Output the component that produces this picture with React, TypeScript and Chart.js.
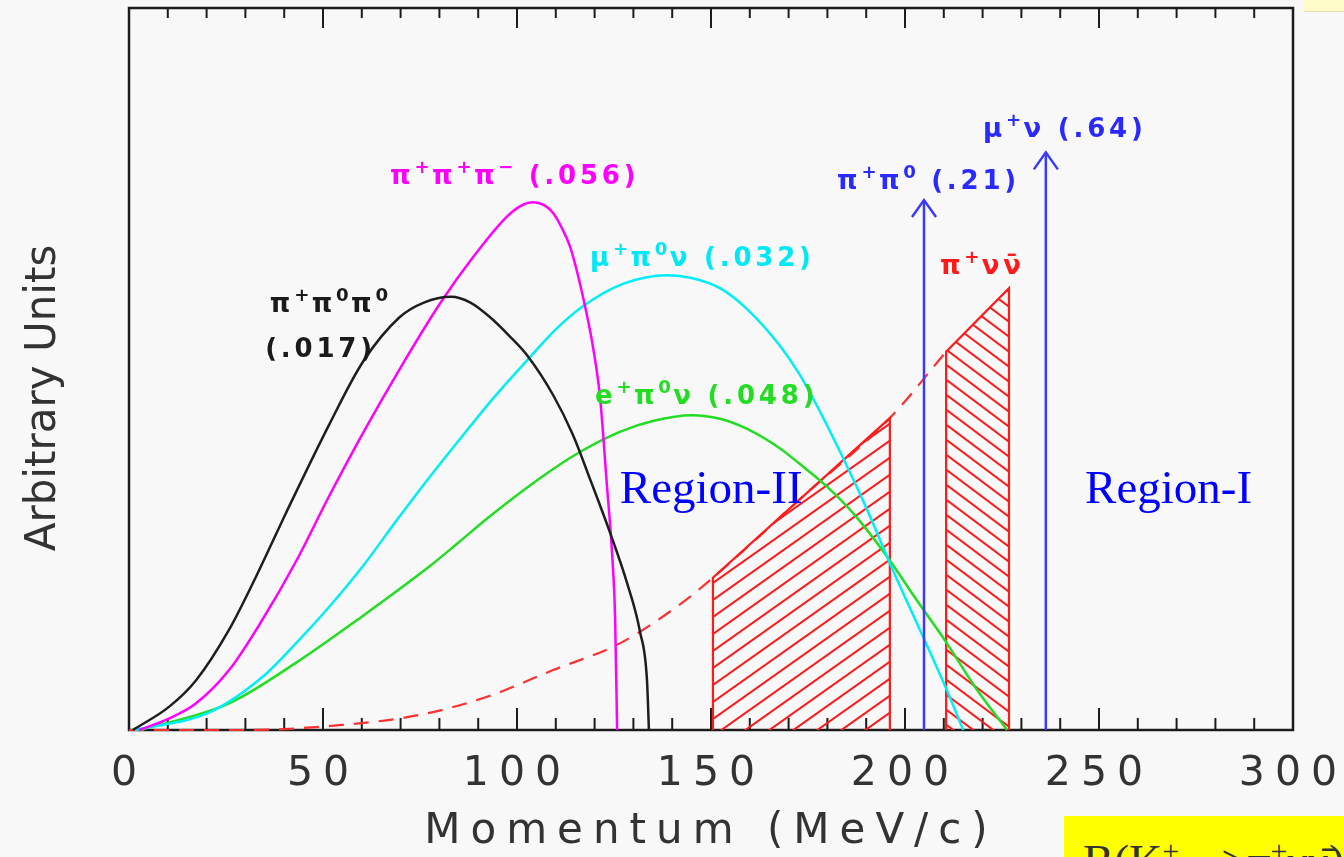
import React, { useEffect, useRef } from "react";
import { Chart, registerables } from "chart.js";

Chart.register(...registerables);

// ---------------- data (momentum in MeV/c, arbitrary units) ----------------
const xMin = 0;
const xMax = 300;
const xTickStep = 10;
const xMajorStep = 50;
const yMin = 0;
const yMax = 100;

// K+ -> pi+ pi0 pi0  (.017)
const pi3neutP = [1, 10.3, 17.3, 25.8, 32.7, 40.5, 51.5, 60.3, 69.8, 76, 83, 88, 93, 98, 102.6, 109.3, 114.4, 119, 124, 128.4, 131.7, 133.5, 134];
const pi3neutV = [0, 3.2, 6.9, 13.9, 21.2, 30.1, 42.2, 51, 57.2, 59.2, 60, 59.2, 57.2, 54.6, 51.9, 46.4, 40.9, 34.5, 27.3, 20.3, 13.6, 6.9, 0];

// K+ -> pi+ pi+ pi-  (.056)
const pi3chP = [2.6, 10, 17.3, 25.8, 34.3, 43, 51.5, 60.8, 70, 80.2, 88.7, 97.4, 101, 104.1, 107, 109.3, 111.5, 113.7, 117, 119.6, 121.4, 123.2, 124.5, 125.3, 125.8];
const pi3chV = [0, 1.5, 3.7, 8.3, 15.2, 23.3, 32.3, 41.6, 50.2, 59.1, 65.5, 71.1, 72.6, 73.1, 72.7, 71.6, 69.6, 66.9, 60, 53, 46.1, 33.7, 24.5, 15.2, 0];

// K+ -> mu+ pi0 nu  (.032)
const kmu3P = [1.5, 20.6, 34.3, 43, 51.5, 60, 68.8, 77.3, 85.3, 93.8, 102.6, 110, 117, 127.3, 138.7, 145, 152.3, 159.3, 167.8, 172.9, 178, 183.2, 190, 197, 205, 210.8, 215];
const kmu3V = [0, 2.4, 7.3, 12, 17, 22.5, 28.9, 34.9, 40.3, 45.9, 51.2, 55.5, 58.7, 61.8, 63, 62.6, 61.2, 58.3, 53.2, 49.2, 44.2, 38.6, 30.8, 22, 12.5, 5.5, 0];

// K+ -> e+ pi0 nu  (.048)
const ke3P = [3, 25.8, 43, 60, 77.3, 85, 92.3, 105.2, 116.2, 126.5, 135, 145, 152.3, 159.3, 167.8, 173, 179.9, 187, 195.4, 203, 210.8, 218, 226.3];
const ke3V = [0, 3.7, 9.3, 15.7, 22.6, 26, 29.3, 34.6, 38.5, 41.3, 42.8, 43.6, 43.1, 41.7, 39, 36.8, 33.7, 29.8, 24, 18, 12, 6, 0];

// K+ -> pi+ nu nubar (dashed spectrum)
const pnnP = [0, 30, 54.9, 75, 92.3, 109.3, 126.5, 142, 150.5, 173.3, 196.1, 210.6];
const pnnV = [0, 0, 0.7, 2.1, 4.6, 8.3, 12, 17.4, 21.1, 32.15, 43.2, 52.4];

// signal regions (hatched)
const region2P = [150.5, 150.5, 196.1, 196.1];
const region2V = [0, 21.1, 43.2, 0];
const region1P = [210.6, 210.6, 226.8, 226.8];
const region1V = [0, 52.4, 61.2, 0];

// two-body peaks (arrows): pi+ pi0 (.21), mu+ nu (.64)
const arrowP = [204.9, 236.3];
const arrowV = [73.4, 80];

// annotation texts ('^' marks a superscript character)
const labelTexts = ["π^+π^+π^− (.056)", "μ^+π^0ν (.032)", "π^+π^0π^0", "(.017)", "e^+π^0ν (.048)", "π^+π^0 (.21)", "μ^+ν (.64)", "π^+νν̄"];
const regionTexts = ["Region-II", "Region-I"];

// ---------------- styling / placement (not data) ----------------
const labelAnchors = [
  { x: 67.3, y: 76.9, color: "#ff00ff" },
  { x: 118.8, y: 65.5, color: "#00e8f4" },
  { x: 36.3, y: 59.1, color: "#1a1a1a" },
  { x: 35.1, y: 52.9, color: "#1a1a1a" },
  { x: 120.1, y: 46.4, color: "#22dd22" },
  { x: 182.5, y: 76.2, color: "#2a2aff" },
  { x: 220.1, y: 83.4, color: "#2a2aff" },
  { x: 209, y: 64.4, color: "#ff1a1a" },
];
const regionAnchors = [
  { x: 126.5, y: 33.2 },
  { x: 246.4, y: 33.2 },
];

const AXIS_FONT = '"DejaVu Sans"';
const AXIS_COLOR = "#333333";

const pts = (xs: number[], ys: number[]) => xs.map((x, i) => ({ x, y: ys[i] }));

function makeHatch(w: number, h: number, dir: number): CanvasPattern | string {
  const c = document.createElement("canvas");
  c.width = w;
  c.height = h;
  const g = c.getContext("2d");
  if (!g) return "rgba(255,0,0,0.3)";
  g.strokeStyle = "#ff1a1a";
  g.lineWidth = 2;
  g.beginPath();
  for (let k = -1; k <= 1; k++) {
    if (dir > 0) {
      g.moveTo(-w, 2 * h + k * h);
      g.lineTo(2 * w, -h + k * h);
    } else {
      g.moveTo(-w, -h + k * h);
      g.lineTo(2 * w, 2 * h + k * h);
    }
  }
  g.stroke();
  const p = g.createPattern(c, "repeat");
  return p || "rgba(255,0,0,0.3)";
}

function drawRich(ctx: any, text: string, x: number, yCenter: number, size: number, color: string, ls: number) {
  const segs: { t: string; sup: boolean }[] = [];
  let buf = "";
  for (let i = 0; i < text.length; i++) {
    const ch = text[i];
    if (ch === "^") {
      if (buf) segs.push({ t: buf, sup: false });
      buf = "";
      segs.push({ t: text[i + 1], sup: true });
      i++;
    } else buf += ch;
  }
  if (buf) segs.push({ t: buf, sup: false });
  const base = yCenter + size * 0.35;
  ctx.save();
  ctx.fillStyle = color;
  ctx.textAlign = "left";
  ctx.textBaseline = "alphabetic";
  let cx = x;
  for (const s of segs) {
    const fs = s.sup ? size * 0.7 : size;
    ctx.font = `bold ${fs}px "DejaVu Sans"`;
    ctx.letterSpacing = `${s.sup ? ls * 0.6 : ls}px`;
    ctx.fillText(s.t, cx, s.sup ? base - size * 0.42 : base);
    cx += ctx.measureText(s.t).width;
  }
  ctx.restore();
}

const overlayPlugin = {
  id: "kaonOverlay",
  beforeDraw(chart: any) {
    chart.ctx.letterSpacing = "10px";
  },
  beforeDatasetsDraw(chart: any) {
    const ctx = chart.ctx;
    ctx.letterSpacing = "0px";
    const { left, right, top, bottom } = chart.chartArea;
    ctx.save();
    ctx.strokeStyle = "#1c1c1c";
    ctx.lineWidth = 2.5;
    ctx.strokeRect(left, top, right - left, bottom - top);
    const xs = chart.scales.x;
    ctx.lineWidth = 2;
    ctx.beginPath();
    xs.ticks.forEach((t: any) => {
      const px = xs.getPixelForValue(t.value);
      const major = Math.abs(t.value % xMajorStep) < 1e-6;
      ctx.moveTo(px, bottom);
      ctx.lineTo(px, bottom - (major ? 22 : 12));
      ctx.moveTo(px, top);
      ctx.lineTo(px, top + (major ? 20 : 10));
    });
    ctx.stroke();
    ctx.restore();
  },
  afterDatasetsDraw(chart: any) {
    const ctx = chart.ctx;
    ctx.save();
    ctx.strokeStyle = "#3a3aff";
    ctx.lineWidth = 2.5;
    [0, 1].forEach((di) => {
      const meta = chart.getDatasetMeta(di);
      const tip = meta.data[1];
      if (!tip) return;
      ctx.beginPath();
      ctx.moveTo(tip.x - 12, tip.y + 17);
      ctx.lineTo(tip.x, tip.y);
      ctx.lineTo(tip.x + 12, tip.y + 17);
      ctx.stroke();
    });
    ctx.restore();
  },
  afterDraw(chart: any) {
    const ctx = chart.ctx;
    const xs = chart.scales.x;
    const ys = chart.scales.y;
    labelTexts.forEach((t, i) => {
      const a = labelAnchors[i];
      drawRich(ctx, t, xs.getPixelForValue(a.x), ys.getPixelForValue(a.y), 26, a.color, 3.8);
    });
    ctx.save();
    ctx.letterSpacing = "0px";
    ctx.font = '47px "Liberation Serif", "Times New Roman", serif';
    ctx.fillStyle = "#0000ff";
    ctx.textAlign = "left";
    ctx.textBaseline = "middle";
    regionTexts.forEach((t, i) => {
      const a = regionAnchors[i];
      ctx.fillText(t, xs.getPixelForValue(a.x), ys.getPixelForValue(a.y));
    });
    ctx.restore();
    // y axis title
    ctx.save();
    ctx.letterSpacing = "0px";
    ctx.translate(44, 398);
    ctx.rotate(-Math.PI / 2);
    ctx.font = `42px ${AXIS_FONT}`;
    ctx.fillStyle = AXIS_COLOR;
    ctx.textAlign = "center";
    ctx.textBaseline = "middle";
    ctx.fillText("Arbitrary Units", 0, 0);
    ctx.restore();
  },
};

export default function App() {
  const ref = useRef<HTMLCanvasElement>(null);

  useEffect(() => {
    document.body.style.margin = "0";
    document.body.style.background = "#f8f8f8";
    const canvas = ref.current;
    if (!canvas) return;
    const hatchA = makeHatch(24, 17, 1);
    const hatchB = makeHatch(20, 15, -1);

    const line = (data: any[], color: string, extra: any = {}) => ({
      data,
      borderColor: color,
      backgroundColor: color,
      borderWidth: 2.5,
      pointRadius: 0,
      fill: false,
      cubicInterpolationMode: "monotone",
      clip: 6,
      ...extra,
    });

    const chart = new Chart(canvas, {
      type: "line",
      data: {
        datasets: [
          line(pts([arrowP[0], arrowP[0]], [0, arrowV[0]]), "#3a3aff", { label: "π+π0 (.21)", cubicInterpolationMode: "default", tension: 0 }),
          line(pts([arrowP[1], arrowP[1]], [0, arrowV[1]]), "#3a3aff", { label: "μ+ν (.64)", cubicInterpolationMode: "default", tension: 0 }),
          line(pts(pi3neutP, pi3neutV), "#1e1e1e", { label: "π+π0π0 (.017)" }),
          line(pts(pi3chP, pi3chV), "#ff00ff", { label: "π+π+π− (.056)" }),
          line(pts(kmu3P, kmu3V), "#00eef8", { label: "μ+π0ν (.032)" }),
          line(pts(ke3P, ke3V), "#22dd22", { label: "e+π0ν (.048)" }),
          line(pts(region2P, region2V), "#ff1a1a", { label: "Region-II", cubicInterpolationMode: "default", tension: 0, borderWidth: 2.2, fill: "origin", backgroundColor: hatchA }),
          line(pts(region1P, region1V), "#ff1a1a", { label: "Region-I", cubicInterpolationMode: "default", tension: 0, borderWidth: 2.2, fill: "origin", backgroundColor: hatchB }),
          line(pts(pnnP, pnnV), "#ff3030", { label: "π+νν̄", borderWidth: 2.2, borderDash: [15, 10] }),
        ],
      },
      options: {
        responsive: false,
        animation: false,
        events: [],
        layout: { padding: { top: 8, right: 51, bottom: 0, left: 0 } },
        plugins: { legend: { display: false }, tooltip: { enabled: false } },
        scales: {
          x: {
            type: "linear",
            min: xMin,
            max: xMax,
            grid: { display: false, drawTicks: false },
            border: { display: false },
            ticks: {
              stepSize: xTickStep,
              autoSkip: false,
              maxRotation: 0,
              padding: 20,
              color: AXIS_COLOR,
              font: { family: AXIS_FONT, size: 41 },
              callback: (v: any) => (Math.abs(Number(v) % xMajorStep) < 1e-6 ? String(v) : ""),
            },
            title: {
              display: true,
              text: "Momentum (MeV/c)",
              color: AXIS_COLOR,
              font: { family: AXIS_FONT, size: 42 },
              padding: { top: 0, bottom: 0 },
            },
            afterFit: (s: any) => {
              s.height = 127;
              s.paddingLeft = 0;
              s.paddingRight = 0;
            },
          },
          y: {
            type: "linear",
            min: yMin,
            max: yMax,
            grid: { display: false },
            border: { display: false },
            ticks: { display: false },
            afterFit: (s: any) => {
              s.width = 129;
              s.paddingTop = 0;
              s.paddingBottom = 0;
            },
          },
        },
      },
      plugins: [overlayPlugin],
    } as any);
    return () => chart.destroy();
  }, []);

  return (
    <div style={{ position: "relative", width: 1344, height: 857, overflow: "hidden", background: "#f8f8f8" }}>
      <canvas ref={ref} width={1344} height={857} style={{ position: "absolute", left: 0, top: 0 }} />
      <div style={{ position: "absolute", left: 1304, top: 0, width: 40, height: 11, background: "#fdfbc8", borderBottom: "1px solid #e0deb0" }} />
      <div style={{ position: "absolute", left: 1064, top: 816, width: 280, height: 41, background: "#ffff00", overflow: "hidden" }}>
        <div style={{ position: "absolute", left: 19, top: 12, font: '46px "Liberation Serif", serif', lineHeight: "46px", color: "#333", whiteSpace: "nowrap" }}>
          B(K<sup style={{ fontSize: "30px" }}>+</sup> --&gt;π<sup style={{ fontSize: "30px" }}>+</sup>νν̄)
        </div>
      </div>
    </div>
  );
}
